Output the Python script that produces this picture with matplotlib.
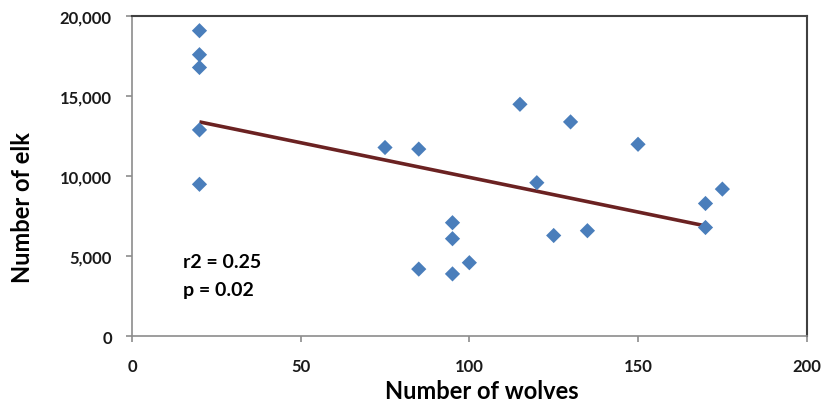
import numpy as np
import matplotlib
matplotlib.use("Agg")
import matplotlib.pyplot as plt
from matplotlib.ticker import FuncFormatter

wolves = [20, 20, 20, 20, 20, 75, 85, 85, 95, 95, 95, 100, 115, 120, 125, 130, 135, 150, 170, 170, 175]
elk = [19100, 17600, 16800, 12900, 9500, 11800, 11700, 4200, 7100, 6100, 3900, 4600, 14500, 9600, 6300, 13400, 6600, 12000, 8300, 6800, 9200]
trend_x = [20, 170]
trend_y = [13400, 6900]
x_ticks = [0, 50, 100, 150, 200]
y_ticks = [0, 5000, 10000, 15000, 20000]

plt.rcParams['font.family'] = ['Lato', 'DejaVu Sans']

fig = plt.figure(figsize=(8.27, 4.02), dpi=100)
ax = fig.add_axes([132/827, 1 - 337.3/402, (806.7 - 132)/827, (337.3 - 17.3)/402])

ax.scatter(wolves, elk, marker='D', s=60, color='#4A7EBB', edgecolors='none', zorder=3)
ax.plot(trend_x, trend_y, color='#6B2222', lw=2.6, zorder=2, solid_capstyle='butt')

ax.set_xlim(0, 200)
ax.set_ylim(0, 20000)
ax.set_xticks(x_ticks)
ax.set_yticks(y_ticks)
ax.yaxis.set_major_formatter(FuncFormatter(lambda v, p: f"{int(v):,}"))

for s in ['left', 'bottom']:
    ax.spines[s].set_color('#8C8C8C')
    ax.spines[s].set_linewidth(1.2)
for s in ['top', 'right']:
    ax.spines[s].set_color('#404040')
    ax.spines[s].set_linewidth(1.5)

ax.tick_params(axis='both', direction='out', length=4.5, width=1.2, color='#8C8C8C',
               labelsize=12, labelcolor='#1A1A1A')
ax.tick_params(axis='y', pad=10)
ax.tick_params(axis='x', pad=11)
for lab in ax.get_xticklabels() + ax.get_yticklabels():
    lab.set_fontweight('bold')

ax.set_xlabel('Number of wolves', fontsize=17, fontweight='bold')
ax.set_ylabel('Number of elk', fontsize=17, fontweight='bold')
ax.xaxis.set_label_coords(0.518, -0.168)
ax.xaxis.label.set_va('center')
ax.yaxis.set_label_coords(-0.163, 0.404)
ax.yaxis.label.set_va('center')

ax.text(15.1, 4330, 'r2 = 0.25', fontsize=14, fontweight='bold', va='baseline', ha='left')
ax.text(15.1, 2580, 'p = 0.02', fontsize=14, fontweight='bold', va='baseline', ha='left')

fig.savefig('out.png', dpi=100)
